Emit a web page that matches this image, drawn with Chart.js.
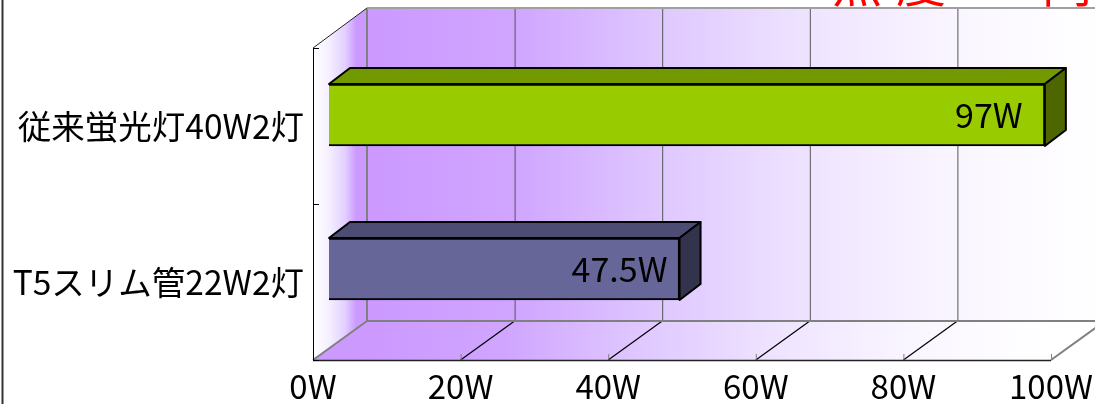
<!DOCTYPE html>
<html>
<head>
<meta charset="utf-8">
<style>
body { margin: 0; background: #fff; }
canvas { display: block; }
</style>
<script src="https://cdn.jsdelivr.net/npm/chart.js@4"></script>
</head>
<body>
<canvas id="powerChart" width="1095" height="404"></canvas>
<script>
// Chart data
const categories = ['従来蛍光灯40W2灯', 'T5スリム管22W2灯'];
const watts = [97, 47.5];
const axisMax = 100;
const axisStep = 20;
const barColors = ['#99CC00', '#666699'];
const barTopColors = ['#739900', '#4D4D73'];
const barSideColors = ['#4D6600', '#33334D'];
const headingParts = [['照', 832], ['度', 896], ['同', 1042]];

const FONT = '"Noto Sans CJK JP", "Noto Sans", sans-serif';

// Fake 3D: depth of the box behind the plot, and of the bars themselves
const WALL_DX = 54, WALL_DY = 39;
const BAR_DX = 21, BAR_DY = 16;
const BAR_SHIFT_X = 16;
const BAR_SHIFT_Y = [-11, -13];
const LABEL_OFFSET = [-56, -60];

function fadeGradient(ctx, x0, x1) {
    const g = ctx.createLinearGradient(x0, 0, x1, 0);
    g.addColorStop(0, '#CC99FF');
    g.addColorStop(0.2, '#D0A5FF');
    g.addColorStop(0.4, '#DFC8FF');
    g.addColorStop(0.6, '#EFE4FF');
    g.addColorStop(0.8, '#FAF6FF');
    g.addColorStop(1, '#FFFFFF');
    return g;
}

function fillPoly(ctx, pts, fill, stroke, lineWidth) {
    ctx.beginPath();
    pts.forEach((p, i) => i ? ctx.lineTo(p[0], p[1]) : ctx.moveTo(p[0], p[1]));
    ctx.closePath();
    if (fill) { ctx.fillStyle = fill; ctx.fill(); }
    if (stroke) { ctx.strokeStyle = stroke; ctx.lineWidth = lineWidth; ctx.lineJoin = 'round'; ctx.stroke(); }
}

function line(ctx, x0, y0, x1, y1, color, width) {
    ctx.beginPath();
    ctx.moveTo(x0, y0);
    ctx.lineTo(x1, y1);
    ctx.strokeStyle = color;
    ctx.lineWidth = width;
    ctx.stroke();
}

// Walls, floor, grid and frame behind the bars
const boxPlugin = {
    id: 'box3d',
    beforeDatasetsDraw(chart) {
        const { ctx, chartArea: a, scales } = chart;
        const bx = a.left + WALL_DX, bTop = a.top - WALL_DY - 1, bBot = a.bottom - WALL_DY;
        ctx.save();

        // left frame of the slide
        line(ctx, 2.5, 0, 2.5, 404, '#333333', 2);

        // heading cut off by the top of the picture
        ctx.fillStyle = '#FF0000';
        ctx.font = '50px ' + FONT;
        ctx.textAlign = 'left';
        ctx.textBaseline = 'alphabetic';
        headingParts.forEach(p => ctx.fillText(p[0], p[1], 2));

        // back wall
        ctx.fillStyle = fadeGradient(ctx, bx, a.right + WALL_DX);
        ctx.fillRect(bx, bTop, a.right - a.left, bBot - bTop);

        // side wall
        const side = ctx.createLinearGradient(a.left, 0, bx, 0);
        side.addColorStop(0, '#FFFFFF');
        side.addColorStop(0.3, '#F5EFFF');
        side.addColorStop(0.6, '#E2CFFF');
        side.addColorStop(0.8, '#CC99FF');
        side.addColorStop(1, '#CC99FF');
        fillPoly(ctx, [[a.left, a.top], [bx, bTop], [bx, bBot], [a.left, a.bottom]], side);

        // floor, same fade as the back wall
        fillPoly(ctx, [[a.left, a.bottom], [a.right, a.bottom], [a.right + WALL_DX, bBot], [bx, bBot]],
            fadeGradient(ctx, bx, a.right));

        // grid
        scales.x.ticks.forEach(t => {
            const x = scales.x.getPixelForValue(t.value);
            const edge = t.value === 0 || t.value === axisMax;
            if (t.value > 0) line(ctx, x + WALL_DX + 0.5, bTop, x + WALL_DX + 0.5, bBot, '#555555', 1);
            line(ctx, x, a.bottom, x + WALL_DX, bBot, edge ? '#808080' : '#000000', edge ? 2 : 1.2);
            line(ctx, x + 0.5, a.bottom, x + 0.5, a.bottom - 6, '#808080', 1);
        });
        line(ctx, bx, bTop, bx, bBot, '#808080', 2);
        line(ctx, bx, bTop, a.right + WALL_DX, bTop, '#A0A0A0', 2);
        line(ctx, bx, bBot, a.right + WALL_DX, bBot, '#808080', 2);

        // front axes
        line(ctx, a.left, a.top, bx, bTop, '#222222', 1);
        line(ctx, a.left + 0.5, a.top, a.left + 0.5, a.bottom, '#000000', 1);
        line(ctx, a.left, a.bottom + 0.5, a.right, a.bottom + 0.5, '#222222', 1.5);
        for (let i = 0; i <= categories.length; i++) {
            const y = Math.round(a.top + i * (a.bottom - a.top) / categories.length) + 0.5;
            line(ctx, a.left, y, a.left + 6, y, '#000000', 1);
        }
        ctx.restore();
    },
    // move bars into the middle of the box depth
    afterDatasetsUpdate(chart) {
        chart.getDatasetMeta(0).data.forEach((bar, i) => {
            bar.x += BAR_SHIFT_X;
            bar.base += BAR_SHIFT_X;
            bar.y += BAR_SHIFT_Y[i];
        });
    },
    // top and side faces go under the front face
    beforeDatasetDraw(chart) {
        const { ctx } = chart;
        ctx.save();
        chart.getDatasetMeta(0).data.forEach((bar, i) => {
            const top = bar.y - bar.height / 2, bottom = bar.y + bar.height / 2;
            fillPoly(ctx, [[bar.base, top], [bar.x, top], [bar.x + BAR_DX, top - BAR_DY], [bar.base + BAR_DX, top - BAR_DY]],
                barTopColors[i], '#000000', 2);
            fillPoly(ctx, [[bar.x, top], [bar.x + BAR_DX, top - BAR_DY], [bar.x + BAR_DX, bottom - BAR_DY], [bar.x, bottom]],
                barSideColors[i], '#000000', 2);
        });
        ctx.restore();
    },
    // value labels
    afterDatasetsDraw(chart) {
        const { ctx } = chart;
        ctx.save();
        ctx.fillStyle = '#000000';
        ctx.font = '34px ' + FONT;
        ctx.textAlign = 'center';
        ctx.textBaseline = 'middle';
        chart.getDatasetMeta(0).data.forEach((bar, i) => {
            ctx.fillText(watts[i] + 'W', bar.x + LABEL_OFFSET[i], bar.y);
        });
        ctx.restore();
    }
};

new Chart(document.getElementById('powerChart').getContext('2d'), {
    type: 'bar',
    data: {
        labels: categories,
        datasets: [{
            data: watts,
            backgroundColor: barColors,
            borderColor: '#000000',
            borderWidth: 2,
            barThickness: 62
        }]
    },
    plugins: [boxPlugin],
    options: {
        indexAxis: 'y',
        responsive: false,
        animation: false,
        layout: { padding: { top: 48, right: 44, left: 0, bottom: 0 } },
        plugins: {
            legend: { display: false },
            tooltip: { enabled: false }
        },
        scales: {
            x: {
                min: 0,
                max: axisMax,
                grid: { display: false, drawTicks: false },
                border: { display: false },
                ticks: {
                    stepSize: axisStep,
                    autoSkip: false,
                    maxRotation: 0,
                    padding: 7,
                    color: '#000000',
                    font: { family: FONT, size: 33 },
                    callback: v => v + 'W'
                },
                afterFit(scale) {
                    scale.height = 44;
                    scale.paddingLeft = 0;
                    scale.paddingRight = 0; // the 100W label may overhang the plot
                }
            },
            y: {
                grid: { display: false, drawTicks: false },
                border: { display: false },
                ticks: {
                    padding: 9,
                    color: '#000000',
                    font: { family: FONT, size: 33.5 }
                },
                afterFit(scale) { scale.width = 313; }
            }
        }
    }
});
</script>
</body>
</html>
